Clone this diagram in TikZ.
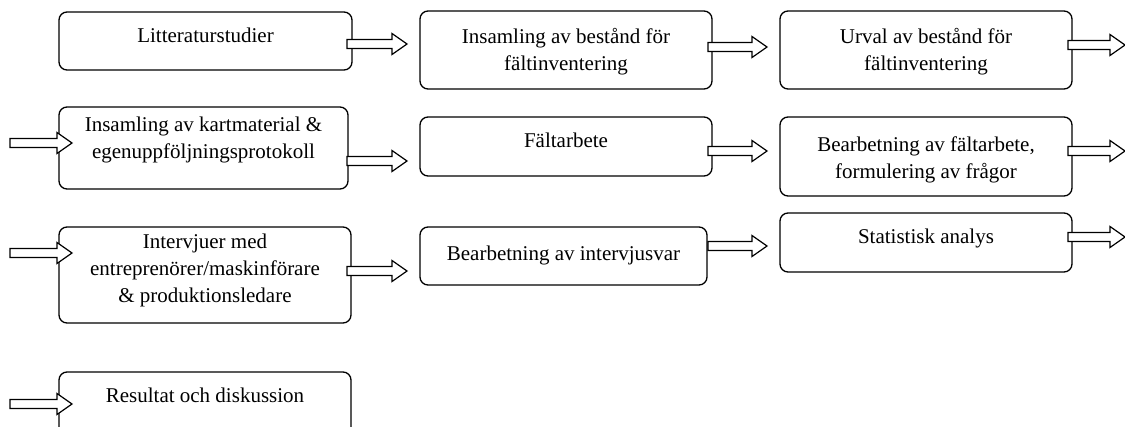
\documentclass[tikz,border=0pt]{standalone}
\usepackage{fontspec}
\setmainfont{Liberation Serif}
\usetikzlibrary{fit}
\begin{document}
\begin{tikzpicture}[x=1pt,y=-1pt,
  stepbox/.style={draw, line width=1.3pt, rounded corners=8pt, inner sep=0pt},
  txt/.style={font=\fontsize{21}{27}\selectfont, align=center, inner sep=0pt, anchor=base},
  barrow/.pic={\draw[line width=1.2pt, fill=white, line join=miter]
     (0,-4.5) -- (#1-15,-4.5) -- (#1-15,-10.5) -- (#1,0) -- (#1-15,10.5) -- (#1-15,4.5) -- (0,4.5) -- cycle;}]
\path[use as bounding box, clip] (0,0) rectangle (1125,426);
\fill[white] (0,0) rectangle (1125,426);
% boxes
\node[stepbox, fit={(59,12) (352,70)}] (b1) {};
\node[stepbox, fit={(420,11) (712,89)}] (b2) {};
\node[stepbox, fit={(780,11) (1072,89)}] (b3) {};
\node[stepbox, fit={(59,107) (348,189)}] (b4) {};
\node[stepbox, fit={(420,117) (712,176)}] (b5) {};
\node[stepbox, fit={(780,117) (1072,196)}] (b6) {};
\node[stepbox, fit={(59,227) (351,323)}] (b7) {};
\node[stepbox, fit={(420,227) (707,285)}] (b8) {};
\node[stepbox, fit={(780,213) (1072,272)}] (b9) {};
\node[stepbox, fit={(59,372) (351,445)}] (b10) {};
% texts (base anchor = baseline of last line)
\node[txt] (t1) at (205.5,42) {Litteraturstudier};
\node[txt] (t2) at (566,70) {Insamling av bestånd för\\fältinventering};
\node[txt] (t3) at (926,70) {Urval av bestånd för\\fältinventering};
\node[txt] (t4) at (203.5,158) {Insamling av kartmaterial \&\\egenuppföljningsprotokoll};
\node[txt] (t5) at (566,147) {Fältarbete};
\node[txt] (t6) at (926,178) {Bearbetning av fältarbete,\\formulering av frågor};
\node[txt] (t7) at (205,302) {Intervjuer med\\entreprenörer/maskinförare\\\& produktionsledare};
\node[txt] (t8) at (563.5,260) {Bearbetning av intervjusvar};
\node[txt] (t9) at (926,243) {Statistisk analys};
\node[txt] (t10) at (205,402) {Resultat och diskussion};
% block arrows
\pic at (347,44) {barrow=60};
\pic at (708,47) {barrow=59};
\pic at (1068,45) {barrow=57};
\pic at (10,143) {barrow=62};
\pic at (347,161) {barrow=60};
\pic at (708,151) {barrow=59};
\pic at (1068,151) {barrow=57};
\pic at (10,253) {barrow=62};
\pic at (347,271) {barrow=60};
\pic at (708,246) {barrow=59};
\pic at (1068,237) {barrow=57};
\pic at (10,404) {barrow=62};
\end{tikzpicture}
\end{document}
